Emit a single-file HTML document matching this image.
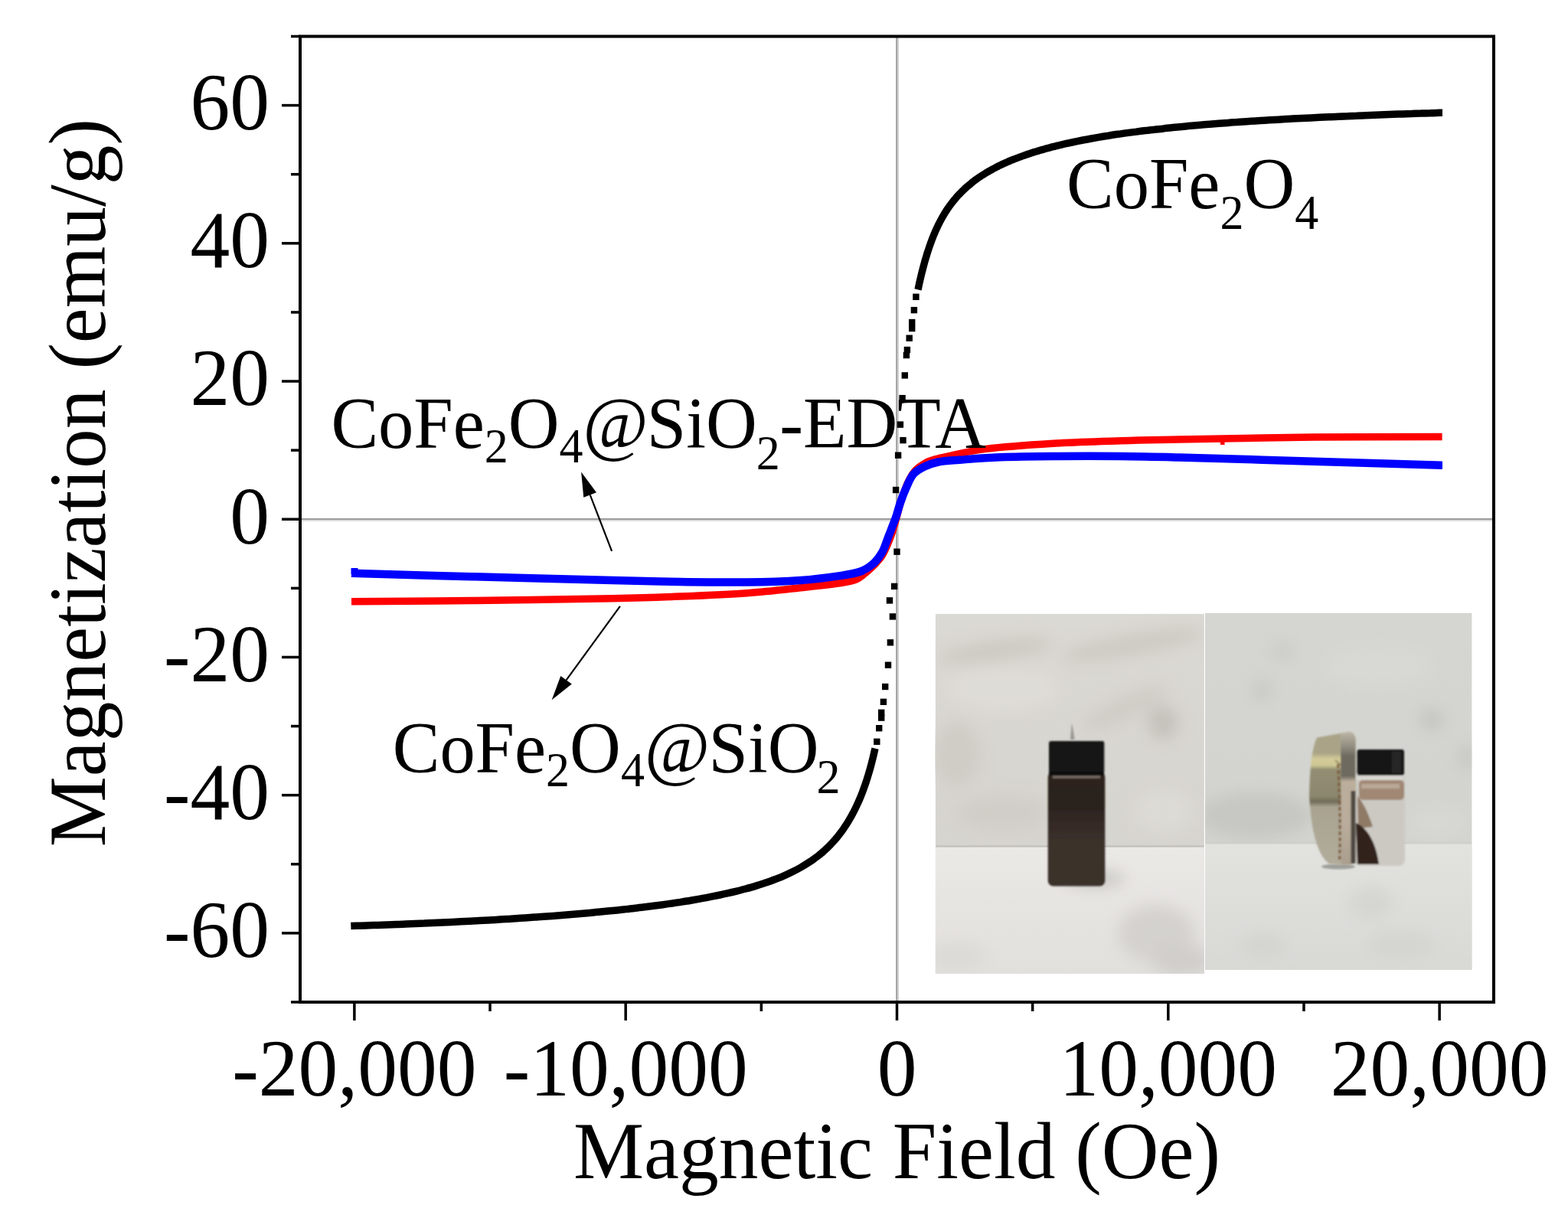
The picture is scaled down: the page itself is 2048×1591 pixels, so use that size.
<!DOCTYPE html>
<html><head><meta charset="utf-8"><title>Magnetization curves</title><style>html,body{margin:0;padding:0;background:#fff;overflow:hidden}svg{display:block}</style></head><body>
<svg width="2048" height="1591" viewBox="0 0 2048 1591" font-family="'Liberation Serif','Times New Roman',serif" fill="#000"><defs>
<filter id="bl1" x="-20%" y="-20%" width="140%" height="140%"><feGaussianBlur stdDeviation="1.1"/></filter>
<filter id="bl2" x="-50%" y="-50%" width="200%" height="200%"><feGaussianBlur stdDeviation="4"/></filter>
<filter id="bl3" x="-60%" y="-60%" width="220%" height="220%"><feGaussianBlur stdDeviation="10"/></filter>
<clipPath id="cpL"><rect x="1221.7" y="801.7" width="351.2" height="470.4"/></clipPath>
<clipPath id="cpR"><rect x="1574" y="800.6" width="348.6" height="466.1"/></clipPath>
<linearGradient id="wallL" x1="0" y1="0" x2="0" y2="1">
<stop offset="0" stop-color="#dbd9d4"/><stop offset="0.5" stop-color="#d7d5d0"/><stop offset="1" stop-color="#d5d3ce"/></linearGradient>
<linearGradient id="tableL" x1="0" y1="0" x2="0" y2="1">
<stop offset="0" stop-color="#ebe9e6"/><stop offset="0.5" stop-color="#e6e4e1"/><stop offset="1" stop-color="#e1e0dc"/></linearGradient>
<linearGradient id="wallR" x1="0" y1="0" x2="0" y2="1">
<stop offset="0" stop-color="#d5d6d1"/><stop offset="0.6" stop-color="#d3d4cf"/><stop offset="1" stop-color="#cdcec9"/></linearGradient>
<linearGradient id="tableR" x1="0" y1="0" x2="0" y2="1">
<stop offset="0" stop-color="#e2e2de"/><stop offset="0.5" stop-color="#dddeda"/><stop offset="1" stop-color="#d8d9d5"/></linearGradient>
<linearGradient id="brass" x1="0" y1="0" x2="1" y2="0">
<stop offset="0" stop-color="#8e8a76"/><stop offset="0.2" stop-color="#b0aa8e"/><stop offset="0.55" stop-color="#aea88c"/><stop offset="0.7" stop-color="#c2beb0"/><stop offset="1" stop-color="#b4b0a6"/></linearGradient>
<linearGradient id="brassV" x1="0" y1="0" x2="0" y2="1">
<stop offset="0" stop-color="#fff" stop-opacity="0"/><stop offset="0.17" stop-color="#fff" stop-opacity="0"/><stop offset="0.22" stop-color="#efe6b0" stop-opacity="0.55"/><stop offset="0.3" stop-color="#fff" stop-opacity="0"/><stop offset="0.47" stop-color="#5a5440" stop-opacity="0"/><stop offset="0.52" stop-color="#5a5440" stop-opacity="0.3"/><stop offset="0.58" stop-color="#5a5440" stop-opacity="0"/><stop offset="1" stop-color="#fff" stop-opacity="0"/></linearGradient>
<linearGradient id="liq" x1="0" y1="0" x2="0" y2="1">
<stop offset="0" stop-color="#2e2520"/><stop offset="0.3" stop-color="#2b221e"/><stop offset="0.45" stop-color="#342a25"/><stop offset="0.6" stop-color="#3a302b"/><stop offset="1" stop-color="#3b312c"/></linearGradient>
<linearGradient id="brassG" x1="0" y1="956" x2="0" y2="1131" gradientUnits="userSpaceOnUse">
<stop offset="0" stop-color="#a9a389"/><stop offset="0.16" stop-color="#aaa487"/><stop offset="0.2" stop-color="#d2ca98"/><stop offset="0.25" stop-color="#cfc794"/><stop offset="0.28" stop-color="#938e73"/><stop offset="0.48" stop-color="#8b876f"/><stop offset="0.52" stop-color="#6f6b59"/><stop offset="0.56" stop-color="#a9a392"/><stop offset="1" stop-color="#b2ac9b"/></linearGradient>
<linearGradient id="faceG" x1="0" y1="956" x2="0" y2="1131" gradientUnits="userSpaceOnUse">
<stop offset="0" stop-color="#bcb6a6"/><stop offset="0.12" stop-color="#8e897d"/><stop offset="0.18" stop-color="#6e6a60"/><stop offset="0.33" stop-color="#6e6a60"/><stop offset="0.37" stop-color="#bcae9b"/><stop offset="0.7" stop-color="#b9ac9b"/><stop offset="1" stop-color="#a99d8d"/></linearGradient>
</defs>
<g id="photos">
<g clip-path="url(#cpL)">
<rect x="1221.7" y="801.7" width="351.2" height="470.4" fill="url(#wallL)"/>
<g filter="url(#bl3)">
<ellipse cx="1300" cy="850" rx="75" ry="12" transform="rotate(-8 1300 850)" fill="#ccc8c1"/>
<ellipse cx="1480" cy="842" rx="95" ry="13" transform="rotate(-10 1480 842)" fill="#cdc9c2"/>
<ellipse cx="1519" cy="944" rx="20" ry="22" fill="#c4c1bb"/>
<ellipse cx="1470" cy="925" rx="60" ry="14" transform="rotate(-25 1470 925)" fill="#cfccc6"/>
<ellipse cx="1310" cy="900" rx="75" ry="28" fill="#dedcd7"/>
<ellipse cx="1250" cy="985" rx="30" ry="42" fill="#cfccc6"/>
<ellipse cx="1310" cy="1062" rx="60" ry="22" fill="#d0cdc8"/>
<ellipse cx="1520" cy="1060" rx="40" ry="30" fill="#dcdad5"/>
</g>
<rect x="1221.7" y="1106" width="351.2" height="167" fill="url(#tableL)"/>
<g filter="url(#bl3)">
<ellipse cx="1510" cy="1220" rx="50" ry="38" fill="#d4d2ce"/>
<ellipse cx="1545" cy="1255" rx="40" ry="20" fill="#d0ceca"/>
<ellipse cx="1250" cy="1250" rx="40" ry="18" fill="#dcdad6"/>
<ellipse cx="1430" cy="1148" rx="40" ry="10" fill="#c6c4c0"/>
</g>
<rect x="1221.7" y="1104.6" width="351.2" height="2" fill="#b4b4af" filter="url(#bl1)"/>
<g filter="url(#bl1)">
<path d="M1400,944 L1403.5,966 L1398,966 Z" fill="#7c7b77" opacity="0.7"/>
<rect x="1368.7" y="1008" width="74.6" height="149.5" rx="7" fill="url(#liq)"/>
<rect x="1370" y="968" width="72.3" height="42" rx="3" fill="#171616"/>
<rect x="1370" y="1008" width="72" height="5" fill="#0c0c0c"/>
<rect x="1375" y="1013.5" width="62" height="3" fill="#9a9088" opacity="0.7"/>
</g>
</g>
<g clip-path="url(#cpR)">
<rect x="1574" y="800.6" width="348.6" height="466.1" fill="url(#wallR)"/>
<g filter="url(#bl3)">
<ellipse cx="1640" cy="1065" rx="75" ry="30" fill="#c6c7c2"/>
<ellipse cx="1870" cy="940" rx="16" ry="15" fill="#c5c6c1"/>
<ellipse cx="1648" cy="902" rx="14" ry="13" fill="#c8c9c4"/>
<ellipse cx="1675" cy="850" rx="14" ry="11" fill="#cacbc6"/>
<ellipse cx="1915" cy="990" rx="12" ry="18" fill="#c8c9c4"/>
<ellipse cx="1800" cy="870" rx="70" ry="25" fill="#d8d9d4"/>
<ellipse cx="1880" cy="1075" rx="40" ry="20" fill="#d7d8d3"/>
</g>
<rect x="1574" y="1101.5" width="348.6" height="166" fill="url(#tableR)"/>
<g filter="url(#bl3)">
<ellipse cx="1790" cy="1180" rx="30" ry="22" fill="#d5d6d1"/>
<ellipse cx="1830" cy="1235" rx="45" ry="18" fill="#d4d5d0"/>
<ellipse cx="1650" cy="1235" rx="30" ry="15" fill="#d3d4cf"/>
</g>
<rect x="1574" y="1100.6" width="348.6" height="1.6" fill="#c5c6c1" filter="url(#bl1)"/>
<ellipse cx="1748" cy="1132" rx="22" ry="3.5" fill="#9fa09c" filter="url(#bl1)"/>
<g filter="url(#bl1)">
<rect x="1769" y="1010" width="66" height="121" rx="8" fill="#ccc9c3"/>
<rect x="1771" y="1011" width="62" height="8" fill="#d9d7d2"/>
<rect x="1775" y="1019" width="59" height="26" rx="5" fill="#a08874"/>
<rect x="1778" y="1024" width="50" height="6" fill="#c4b6a6" opacity="0.7"/>
<path d="M1773,1040 C1782,1050 1788,1065 1793,1080 L1774,1082 Z" fill="#8f7a66"/>
<path d="M1771,1075 C1788,1082 1798,1105 1801,1129 L1773,1129 Z" fill="#30241c"/>
<rect x="1772.5" y="978.9" width="61.4" height="34" rx="3" fill="#131313"/>
<rect x="1818" y="982" width="12" height="28" fill="#3a3a3a" opacity="0.5"/>
<path d="M1720,963.5 L1762,956 Q1770,957 1770.5,966 L1770,1122 Q1769,1130 1760,1130 L1736,1128.5 Q1714,1112 1710,1040 Q1711,982 1720,963.5 Z" fill="url(#brassG)"/>
<path d="M1751,958 L1762,956 Q1770,957 1770.5,966 L1770,1122 Q1769,1130 1760,1130 L1752,1129 Z" fill="url(#faceG)"/>
<rect x="1764.5" y="1033" width="6" height="95" fill="#3c3631" opacity="0.85"/>
<path d="M1747.5,998 C1750,1040 1751,1080 1749.5,1124" stroke="#7a5632" stroke-width="3.2" fill="none" stroke-dasharray="5 3" opacity="0.9"/>
<path d="M1744,993 L1752,1000" stroke="#6a5a44" stroke-width="2" opacity="0.6"/>
</g>
</g>
</g>

<line x1="392.0" y1="680" x2="1951.0" y2="680" stroke="#dddcdc" stroke-width="2.2"/>
<line x1="392.0" y1="677.9" x2="1951.0" y2="677.9" stroke="#9c9a9b" stroke-width="2"/>
<line x1="1172.9" y1="47.5" x2="1172.9" y2="1309.0" stroke="#cfcdcc" stroke-width="2"/>
<line x1="1171.05" y1="47.5" x2="1171.05" y2="1309.0" stroke="#9f9d9d" stroke-width="1.8"/>
<path d="M459.0,785.7 C485.1,785.5 559.0,785.2 615.8,784.5 C672.6,783.8 754.6,782.6 800.0,781.7 C845.4,780.8 858.6,780.3 887.9,779.1 C917.2,777.9 949.4,776.6 975.8,774.7 C1002.2,772.8 1025.6,769.9 1046.1,767.7 C1066.6,765.5 1086.8,763.2 1098.8,761.5 C1110.8,759.8 1112.8,759.3 1118.0,757.2 C1123.2,755.1 1126.3,751.7 1130.0,748.8 C1133.7,745.9 1137.3,742.5 1140.0,740.0 C1142.7,737.5 1144.0,735.8 1146.0,733.5 C1148.0,731.2 1149.9,729.4 1152.0,726.0 C1154.1,722.6 1156.4,717.7 1158.5,713.0 C1160.6,708.3 1162.5,703.8 1164.5,698.0 C1166.5,692.2 1168.5,685.0 1170.5,678.0 C1172.5,671.0 1174.1,663.7 1176.5,656.0 C1178.9,648.3 1181.8,639.0 1185.0,632.0 C1188.2,625.0 1191.8,618.7 1196.0,614.0 C1200.2,609.3 1206.1,606.2 1210.0,604.0 C1213.9,601.8 1215.2,601.7 1219.4,600.5 C1223.6,599.3 1223.8,599.0 1235.2,596.6 C1246.6,594.2 1264.5,589.3 1287.9,586.4 C1311.3,583.5 1346.5,581.1 1375.8,579.3 C1405.1,577.5 1436.3,576.7 1463.7,575.8 C1491.1,574.9 1498.0,574.9 1540.0,574.1 C1582.0,573.3 1658.5,571.7 1715.8,571.1 C1773.1,570.5 1855.6,570.5 1883.6,570.4" fill="none" stroke="#ff0000" stroke-width="9.5" stroke-linejoin="round" stroke-linecap="butt" />
<path d="M459.0,748.8 C485.1,749.5 559.0,751.7 615.8,753.2 C672.6,754.7 754.6,756.9 800.0,758.0 C845.4,759.1 858.6,759.6 887.9,760.0 C917.2,760.4 949.4,760.8 975.8,760.5 C1002.2,760.2 1025.6,759.4 1046.1,758.0 C1066.6,756.6 1085.8,753.8 1098.8,751.9 C1111.8,750.0 1117.0,749.1 1123.9,746.5 C1130.9,743.9 1135.7,740.7 1140.5,736.4 C1145.3,732.1 1149.2,726.7 1152.5,720.9 C1155.8,715.1 1157.5,708.2 1160.0,701.8 C1162.5,695.4 1165.7,687.5 1167.5,682.7 C1169.3,677.9 1169.6,677.5 1171.0,673.1 C1172.4,668.7 1173.9,662.4 1176.0,656.4 C1178.1,650.4 1180.7,643.5 1183.5,637.3 C1186.3,631.1 1189.0,624.0 1193.0,619.4 C1197.0,614.8 1202.1,612.1 1207.5,609.5 C1212.9,606.9 1217.9,605.0 1225.4,603.5 C1232.9,602.0 1239.4,601.8 1252.7,600.8 C1266.0,599.8 1285.0,598.1 1305.5,597.3 C1326.0,596.5 1349.4,596.2 1375.8,596.0 C1402.2,595.8 1436.3,595.8 1463.7,596.0 C1491.1,596.2 1498.0,596.4 1540.0,597.5 C1582.0,598.6 1658.5,601.0 1715.8,602.7 C1773.1,604.4 1855.6,606.9 1883.6,607.7" fill="none" stroke="#0000ff" stroke-width="10.5" stroke-linejoin="round" stroke-linecap="butt" />
<rect x="1594" y="574" width="5.5" height="7" fill="#ff0000"/>
<rect x="1878.5" y="603" width="5.5" height="9.5" fill="#0000ff"/>
<rect x="458.5" y="742" width="9" height="8" fill="#0000ff"/>
<path d="M1199.0,378.3 C1199.2,377.5 1199.7,375.1 1200.0,373.6 C1200.3,372.0 1200.7,370.5 1201.0,369.1 C1201.3,367.6 1201.7,366.1 1202.0,364.7 C1202.3,363.2 1202.7,361.8 1203.0,360.4 C1203.3,359.0 1203.7,357.7 1204.0,356.3 C1204.3,355.0 1204.7,353.7 1205.0,352.4 C1205.3,351.1 1205.7,349.8 1206.0,348.5 C1206.3,347.3 1206.7,346.0 1207.0,344.8 C1207.3,343.6 1207.7,342.4 1208.0,341.2 C1208.3,340.1 1208.7,338.9 1209.0,337.8 C1209.3,336.6 1209.7,335.5 1210.0,334.4 C1210.3,333.3 1210.7,332.2 1211.0,331.2 C1211.3,330.1 1211.7,329.0 1212.0,328.0 C1212.3,327.0 1212.7,326.0 1213.0,325.0 C1213.3,324.0 1213.7,323.0 1214.0,322.0 C1214.3,321.0 1214.7,320.1 1215.0,319.2 C1215.3,318.2 1215.7,317.3 1216.0,316.4 C1216.3,315.5 1216.7,314.6 1217.0,313.7 C1217.3,312.8 1217.7,312.0 1218.0,311.1 C1218.3,310.3 1218.7,309.4 1219.0,308.6 C1219.3,307.8 1219.7,307.0 1220.0,306.2 C1220.3,305.4 1220.7,304.6 1221.0,303.8 C1221.3,303.0 1221.7,302.2 1222.0,301.5 C1222.3,300.7 1222.7,300.0 1223.0,299.3 C1223.3,298.5 1223.7,297.8 1224.0,297.1 C1224.3,296.4 1224.7,295.7 1225.0,295.0 C1225.3,294.3 1225.7,293.6 1226.0,292.9 C1226.3,292.3 1226.7,291.6 1227.0,291.0 C1227.3,290.3 1227.7,289.7 1228.0,289.0 C1228.3,288.4 1228.7,287.8 1229.0,287.2 C1229.3,286.5 1229.7,285.9 1230.0,285.3 C1230.3,284.7 1230.7,284.1 1231.0,283.5 C1231.3,283.0 1231.7,282.4 1232.0,281.8 C1232.3,281.2 1232.7,280.7 1233.0,280.1 C1233.3,279.6 1233.7,279.0 1234.0,278.5 C1234.3,277.9 1234.7,277.4 1235.0,276.9 C1235.3,276.4 1235.7,275.8 1236.0,275.3 C1236.3,274.8 1236.7,274.3 1237.0,273.8 C1237.3,273.3 1237.7,272.8 1238.0,272.3 C1238.3,271.8 1238.7,271.3 1239.0,270.9 C1239.3,270.4 1239.2,270.6 1240.0,269.4 C1240.8,268.3 1242.7,265.8 1244.0,264.1 C1245.3,262.4 1246.7,260.8 1248.0,259.2 C1249.3,257.6 1250.7,256.1 1252.0,254.7 C1253.3,253.3 1254.7,251.9 1256.0,250.6 C1257.3,249.2 1258.7,247.9 1260.0,246.7 C1261.3,245.5 1262.7,244.3 1264.0,243.1 C1265.3,242.0 1266.7,240.9 1268.0,239.8 C1269.3,238.7 1270.7,237.6 1272.0,236.6 C1273.3,235.6 1274.7,234.6 1276.0,233.7 C1277.3,232.7 1278.7,231.8 1280.0,230.9 C1281.3,230.0 1282.7,229.1 1284.0,228.3 C1285.3,227.4 1286.7,226.6 1288.0,225.8 C1289.3,225.0 1290.7,224.2 1292.0,223.5 C1293.3,222.7 1294.7,221.9 1296.0,221.2 C1297.3,220.5 1298.7,219.8 1300.0,219.1 C1301.3,218.4 1302.7,217.7 1304.0,217.0 C1305.3,216.4 1306.7,215.7 1308.0,215.1 C1309.3,214.5 1310.7,213.9 1312.0,213.3 C1313.3,212.6 1314.7,212.1 1316.0,211.5 C1317.3,210.9 1318.7,210.3 1320.0,209.8 C1321.3,209.2 1322.7,208.7 1324.0,208.1 C1325.3,207.6 1326.7,207.1 1328.0,206.6 C1329.3,206.1 1330.7,205.6 1332.0,205.1 C1333.3,204.6 1334.7,204.1 1336.0,203.6 C1337.3,203.1 1338.7,202.7 1340.0,202.2 C1341.3,201.7 1342.7,201.3 1344.0,200.9 C1345.3,200.4 1346.7,200.0 1348.0,199.5 C1349.3,199.1 1350.7,198.7 1352.0,198.3 C1353.3,197.9 1354.7,197.5 1356.0,197.1 C1357.3,196.7 1358.7,196.3 1360.0,195.9 C1361.3,195.5 1362.7,195.1 1364.0,194.8 C1365.3,194.4 1366.7,194.0 1368.0,193.7 C1369.3,193.3 1370.7,192.9 1372.0,192.6 C1373.3,192.2 1374.7,191.9 1376.0,191.6 C1377.3,191.2 1378.7,190.9 1380.0,190.5 C1381.3,190.2 1382.7,189.9 1384.0,189.6 C1385.3,189.3 1386.7,188.9 1388.0,188.6 C1389.3,188.3 1390.7,188.0 1392.0,187.7 C1393.3,187.4 1394.7,187.1 1396.0,186.8 C1397.3,186.5 1397.3,186.5 1400.0,186.0 C1402.7,185.4 1408.0,184.3 1412.0,183.5 C1416.0,182.7 1420.0,181.9 1424.0,181.2 C1428.0,180.5 1432.0,179.8 1436.0,179.1 C1440.0,178.4 1444.0,177.8 1448.0,177.2 C1452.0,176.5 1456.0,175.9 1460.0,175.3 C1464.0,174.8 1468.0,174.2 1472.0,173.6 C1476.0,173.1 1480.0,172.6 1484.0,172.1 C1488.0,171.5 1492.0,171.0 1496.0,170.6 C1500.0,170.1 1504.0,169.6 1508.0,169.2 C1512.0,168.7 1516.0,168.3 1520.0,167.9 C1524.0,167.4 1528.0,167.0 1532.0,166.6 C1536.0,166.2 1540.0,165.8 1544.0,165.4 C1548.0,165.1 1552.0,164.7 1556.0,164.3 C1560.0,164.0 1564.0,163.6 1568.0,163.3 C1572.0,162.9 1576.0,162.6 1580.0,162.3 C1584.0,162.0 1588.0,161.6 1592.0,161.3 C1596.0,161.0 1600.0,160.7 1604.0,160.4 C1608.0,160.1 1612.0,159.8 1616.0,159.6 C1620.0,159.3 1624.0,159.0 1628.0,158.7 C1632.0,158.5 1636.0,158.2 1640.0,158.0 C1644.0,157.7 1648.0,157.5 1652.0,157.2 C1656.0,157.0 1660.0,156.7 1664.0,156.5 C1668.0,156.3 1672.0,156.0 1676.0,155.8 C1680.0,155.6 1684.0,155.4 1688.0,155.1 C1692.0,154.9 1696.0,154.7 1700.0,154.5 C1704.0,154.3 1708.0,154.1 1712.0,153.9 C1716.0,153.7 1720.0,153.5 1724.0,153.3 C1728.0,153.1 1732.0,152.9 1736.0,152.7 C1740.0,152.6 1744.0,152.4 1748.0,152.2 C1752.0,152.0 1756.0,151.8 1760.0,151.7 C1764.0,151.5 1768.0,151.3 1772.0,151.2 C1776.0,151.0 1780.0,150.8 1784.0,150.7 C1788.0,150.5 1792.0,150.4 1796.0,150.2 C1800.0,150.0 1804.0,149.9 1808.0,149.7 C1812.0,149.6 1816.0,149.4 1820.0,149.3 C1824.0,149.2 1828.0,149.0 1832.0,148.9 C1836.0,148.7 1840.0,148.6 1844.0,148.5 C1848.0,148.3 1852.0,148.2 1856.0,148.1 C1860.0,147.9 1864.0,147.8 1868.0,147.7 C1872.0,147.5 1877.3,147.4 1880.0,147.3 C1882.7,147.2 1883.3,147.2 1884.0,147.2" fill="none" stroke="#000" stroke-width="9.5" stroke-linejoin="round" stroke-linecap="butt" />
<path d="M458.3,1209.6 C460.2,1209.5 466.1,1209.3 470.0,1209.2 C473.9,1209.1 478.0,1208.9 482.0,1208.8 C486.0,1208.7 490.0,1208.5 494.0,1208.4 C498.0,1208.2 502.0,1208.1 506.0,1208.0 C510.0,1207.8 514.0,1207.7 518.0,1207.5 C522.0,1207.4 526.0,1207.2 530.0,1207.0 C534.0,1206.9 538.0,1206.7 542.0,1206.6 C546.0,1206.4 550.0,1206.2 554.0,1206.1 C558.0,1205.9 562.0,1205.7 566.0,1205.5 C570.0,1205.3 574.0,1205.2 578.0,1205.0 C582.0,1204.8 586.0,1204.6 590.0,1204.4 C594.0,1204.2 598.0,1204.0 602.0,1203.8 C606.0,1203.6 610.0,1203.4 614.0,1203.2 C618.0,1203.0 622.0,1202.8 626.0,1202.6 C630.0,1202.4 634.0,1202.1 638.0,1201.9 C642.0,1201.7 646.0,1201.5 650.0,1201.2 C654.0,1201.0 658.0,1200.7 662.0,1200.5 C666.0,1200.3 670.0,1200.0 674.0,1199.7 C678.0,1199.5 682.0,1199.2 686.0,1199.0 C690.0,1198.7 694.0,1198.4 698.0,1198.1 C702.0,1197.9 706.0,1197.6 710.0,1197.3 C714.0,1197.0 718.0,1196.7 722.0,1196.4 C726.0,1196.1 730.0,1195.8 734.0,1195.5 C738.0,1195.2 742.0,1194.8 746.0,1194.5 C750.0,1194.2 754.0,1193.8 758.0,1193.5 C762.0,1193.1 766.0,1192.8 770.0,1192.4 C774.0,1192.1 778.0,1191.7 782.0,1191.3 C786.0,1190.9 790.0,1190.5 794.0,1190.1 C798.0,1189.7 802.0,1189.3 806.0,1188.9 C810.0,1188.5 814.0,1188.0 818.0,1187.6 C822.0,1187.2 826.0,1186.7 830.0,1186.2 C834.0,1185.8 838.0,1185.3 842.0,1184.8 C846.0,1184.3 850.0,1183.8 854.0,1183.3 C858.0,1182.8 862.0,1182.2 866.0,1181.7 C870.0,1181.1 874.0,1180.5 878.0,1180.0 C882.0,1179.4 886.0,1178.8 890.0,1178.1 C894.0,1177.5 898.0,1176.9 902.0,1176.2 C906.0,1175.5 910.0,1174.8 914.0,1174.1 C918.0,1173.4 922.0,1172.7 926.0,1171.9 C930.0,1171.1 934.0,1170.3 938.0,1169.5 C942.0,1168.7 946.0,1167.8 950.0,1166.9 C954.0,1166.0 958.0,1165.0 962.0,1164.1 C966.0,1163.1 970.0,1162.1 974.0,1161.0 C978.0,1159.9 982.0,1158.8 986.0,1157.6 C990.0,1156.4 994.0,1155.1 998.0,1153.8 C1002.0,1152.4 1006.0,1151.1 1010.0,1149.5 C1014.0,1148.0 1018.0,1146.5 1022.0,1144.8 C1026.0,1143.1 1030.0,1141.3 1034.0,1139.3 C1038.0,1137.4 1042.0,1135.3 1046.0,1133.0 C1050.0,1130.7 1055.7,1127.1 1058.0,1125.6 C1060.3,1124.1 1059.2,1124.8 1060.0,1124.2 C1060.8,1123.7 1062.0,1122.8 1063.0,1122.1 C1064.0,1121.4 1065.0,1120.7 1066.0,1119.9 C1067.0,1119.1 1068.0,1118.4 1069.0,1117.6 C1070.0,1116.8 1071.0,1116.0 1072.0,1115.1 C1073.0,1114.3 1074.0,1113.5 1075.0,1112.6 C1076.0,1111.7 1077.0,1110.8 1078.0,1109.9 C1079.0,1109.0 1080.0,1108.0 1081.0,1107.1 C1082.0,1106.1 1083.0,1105.1 1084.0,1104.1 C1085.0,1103.1 1086.0,1102.0 1087.0,1100.9 C1088.0,1099.8 1089.0,1098.7 1090.0,1097.6 C1091.0,1096.5 1092.0,1095.3 1093.0,1094.1 C1094.0,1092.9 1095.0,1091.6 1096.0,1090.3 C1097.0,1089.1 1098.0,1087.7 1099.0,1086.4 C1100.0,1085.0 1101.0,1083.6 1102.0,1082.2 C1103.0,1080.7 1104.0,1079.2 1105.0,1077.7 C1106.0,1076.2 1107.0,1074.6 1108.0,1072.9 C1109.0,1071.3 1110.0,1069.6 1111.0,1067.8 C1112.0,1066.1 1113.0,1064.2 1114.0,1062.3 C1115.0,1060.5 1116.0,1058.5 1117.0,1056.5 C1118.0,1054.4 1119.0,1052.3 1120.0,1050.1 C1121.0,1047.9 1122.0,1045.7 1123.0,1043.3 C1124.0,1040.9 1125.0,1038.4 1126.0,1035.9 C1127.0,1033.3 1128.3,1029.6 1129.0,1027.8 C1129.7,1025.9 1129.8,1025.6 1130.0,1024.9 C1130.2,1024.2 1130.3,1023.9 1130.5,1023.4 C1130.7,1022.9 1130.8,1022.4 1131.0,1021.9 C1131.2,1021.4 1131.3,1020.9 1131.5,1020.4 C1131.7,1019.9 1131.8,1019.4 1132.0,1018.9 C1132.2,1018.4 1132.3,1017.9 1132.5,1017.3 C1132.7,1016.8 1132.8,1016.3 1133.0,1015.8 C1133.2,1015.2 1133.3,1014.7 1133.5,1014.1 C1133.7,1013.6 1133.8,1013.1 1134.0,1012.5 C1134.2,1012.0 1134.3,1011.4 1134.5,1010.8 C1134.7,1010.3 1134.8,1009.7 1135.0,1009.1 C1135.2,1008.6 1135.3,1008.0 1135.5,1007.4 C1135.7,1006.8 1135.8,1006.3 1136.0,1005.7 C1136.2,1005.1 1136.3,1004.5 1136.5,1003.9 C1136.7,1003.3 1136.8,1002.7 1137.0,1002.1 C1137.2,1001.5 1137.3,1000.9 1137.5,1000.2 C1137.7,999.6 1137.8,999.0 1138.0,998.4 C1138.2,997.7 1138.3,997.1 1138.5,996.5 C1138.7,995.8 1138.8,995.2 1139.0,994.5 C1139.2,993.9 1139.3,993.2 1139.5,992.5 C1139.7,991.9 1139.8,991.2 1140.0,990.5 C1140.2,989.8 1140.3,989.2 1140.5,988.5 C1140.7,987.8 1140.8,987.1 1141.0,986.4 C1141.2,985.7 1141.3,985.0 1141.5,984.2 C1141.7,983.5 1141.8,982.8 1142.0,982.1 C1142.2,981.3 1142.3,980.6 1142.5,979.9 C1142.7,979.1 1142.9,978.0 1143.0,977.6" fill="none" stroke="#000" stroke-width="9.5" stroke-linejoin="round" stroke-linecap="butt" />
<rect x="1192.2" y="383.6" width="8.4" height="8.4" fill="#000"/>
<rect x="1189.7" y="400.9" width="8.4" height="8.4" fill="#000"/>
<rect x="1187.0" y="416.8" width="8.4" height="8.4" fill="#000"/>
<rect x="1187.0" y="424.8" width="8.4" height="8.4" fill="#000"/>
<rect x="1183.5" y="437.5" width="8.4" height="8.4" fill="#000"/>
<rect x="1180.7" y="452.8" width="8.4" height="8.4" fill="#000"/>
<rect x="1179.7" y="459.8" width="8.4" height="8.4" fill="#000"/>
<rect x="1177.6" y="486.2" width="8.4" height="8.4" fill="#000"/>
<rect x="1174.4" y="515.9" width="8.4" height="8.4" fill="#000"/>
<rect x="1171.7" y="550.4" width="8.4" height="8.4" fill="#000"/>
<rect x="1175.3" y="570.9" width="8.4" height="8.4" fill="#000"/>
<rect x="1168.9" y="590.5" width="8.4" height="8.4" fill="#000"/>
<rect x="1165.9" y="635.8" width="8.4" height="8.4" fill="#000"/>
<rect x="1167.3" y="716.5" width="8.4" height="8.4" fill="#000"/>
<rect x="1163.9" y="761.7" width="8.4" height="8.4" fill="#000"/>
<rect x="1157.8" y="780.2" width="8.4" height="8.4" fill="#000"/>
<rect x="1161.7" y="801.2" width="8.4" height="8.4" fill="#000"/>
<rect x="1158.7" y="835.1" width="8.4" height="8.4" fill="#000"/>
<rect x="1155.8" y="864.5" width="8.4" height="8.4" fill="#000"/>
<rect x="1152.0" y="892.8" width="8.4" height="8.4" fill="#000"/>
<rect x="1149.7" y="912.6" width="8.4" height="8.4" fill="#000"/>
<rect x="1147.0" y="926.6" width="8.4" height="8.4" fill="#000"/>
<rect x="1147.0" y="933.4" width="8.4" height="8.4" fill="#000"/>
<rect x="1144.0" y="947.0" width="8.4" height="8.4" fill="#000"/>
<rect x="1141.1" y="964.6" width="8.4" height="8.4" fill="#000"/>
<rect x="392.0" y="47.5" width="1559.0" height="1261.5" fill="none" stroke="#000" stroke-width="4"/>
<line x1="380.0" y1="1309.00" x2="392.0" y2="1309.00" stroke="#000" stroke-width="3.5"/>
<line x1="368.0" y1="1218.89" x2="392.0" y2="1218.89" stroke="#000" stroke-width="3.5"/>
<line x1="380.0" y1="1128.79" x2="392.0" y2="1128.79" stroke="#000" stroke-width="3.5"/>
<line x1="368.0" y1="1038.68" x2="392.0" y2="1038.68" stroke="#000" stroke-width="3.5"/>
<line x1="380.0" y1="948.57" x2="392.0" y2="948.57" stroke="#000" stroke-width="3.5"/>
<line x1="368.0" y1="858.46" x2="392.0" y2="858.46" stroke="#000" stroke-width="3.5"/>
<line x1="380.0" y1="768.36" x2="392.0" y2="768.36" stroke="#000" stroke-width="3.5"/>
<line x1="368.0" y1="678.25" x2="392.0" y2="678.25" stroke="#000" stroke-width="3.5"/>
<line x1="380.0" y1="588.14" x2="392.0" y2="588.14" stroke="#000" stroke-width="3.5"/>
<line x1="368.0" y1="498.04" x2="392.0" y2="498.04" stroke="#000" stroke-width="3.5"/>
<line x1="380.0" y1="407.93" x2="392.0" y2="407.93" stroke="#000" stroke-width="3.5"/>
<line x1="368.0" y1="317.82" x2="392.0" y2="317.82" stroke="#000" stroke-width="3.5"/>
<line x1="380.0" y1="227.71" x2="392.0" y2="227.71" stroke="#000" stroke-width="3.5"/>
<line x1="368.0" y1="137.61" x2="392.0" y2="137.61" stroke="#000" stroke-width="3.5"/>
<line x1="380.0" y1="47.50" x2="392.0" y2="47.50" stroke="#000" stroke-width="3.5"/>
<line x1="462.86" y1="1309.0" x2="462.86" y2="1333.0" stroke="#000" stroke-width="3.5"/>
<line x1="640.02" y1="1309.0" x2="640.02" y2="1321.0" stroke="#000" stroke-width="3.5"/>
<line x1="817.18" y1="1309.0" x2="817.18" y2="1333.0" stroke="#000" stroke-width="3.5"/>
<line x1="994.34" y1="1309.0" x2="994.34" y2="1321.0" stroke="#000" stroke-width="3.5"/>
<line x1="1171.50" y1="1309.0" x2="1171.50" y2="1333.0" stroke="#000" stroke-width="3.5"/>
<line x1="1348.66" y1="1309.0" x2="1348.66" y2="1321.0" stroke="#000" stroke-width="3.5"/>
<line x1="1525.82" y1="1309.0" x2="1525.82" y2="1333.0" stroke="#000" stroke-width="3.5"/>
<line x1="1702.98" y1="1309.0" x2="1702.98" y2="1321.0" stroke="#000" stroke-width="3.5"/>
<line x1="1880.14" y1="1309.0" x2="1880.14" y2="1333.0" stroke="#000" stroke-width="3.5"/>
<g transform="translate(352.0,1250.1) scale(1,1.03)"><text x="0" y="0" font-size="103.5" text-anchor="end" >-60</text></g>
<g transform="translate(352.0,1069.9) scale(1,1.03)"><text x="0" y="0" font-size="103.5" text-anchor="end" >-40</text></g>
<g transform="translate(352.0,889.7) scale(1,1.03)"><text x="0" y="0" font-size="103.5" text-anchor="end" >-20</text></g>
<g transform="translate(352.0,709.5) scale(1,1.03)"><text x="0" y="0" font-size="103.5" text-anchor="end" >0</text></g>
<g transform="translate(352.0,529.2) scale(1,1.03)"><text x="0" y="0" font-size="103.5" text-anchor="end" >20</text></g>
<g transform="translate(352.0,349.0) scale(1,1.03)"><text x="0" y="0" font-size="103.5" text-anchor="end" >40</text></g>
<g transform="translate(352.0,168.8) scale(1,1.03)"><text x="0" y="0" font-size="103.5" text-anchor="end" >60</text></g>
<g transform="translate(462.9,1430.5) scale(1,1.03)"><text x="0" y="0" font-size="103.5" text-anchor="middle" >-20,000</text></g>
<g transform="translate(817.2,1430.5) scale(1,1.03)"><text x="0" y="0" font-size="103.5" text-anchor="middle" >-10,000</text></g>
<g transform="translate(1171.5,1430.5) scale(1,1.03)"><text x="0" y="0" font-size="103.5" text-anchor="middle" >0</text></g>
<g transform="translate(1525.8,1430.5) scale(1,1.03)"><text x="0" y="0" font-size="103.5" text-anchor="middle" >10,000</text></g>
<g transform="translate(1880.1,1430.5) scale(1,1.03)"><text x="0" y="0" font-size="103.5" text-anchor="middle" >20,000</text></g>
<g transform="translate(1171.5,1538.5) scale(1,1.03)"><text x="0" y="0" font-size="103.5" text-anchor="middle" >Magnetic Field (Oe)</text></g>
<g transform="translate(136.6,630.6) rotate(-90) scale(1,1.03)"><text x="0" y="0" font-size="103.5" text-anchor="middle">Magnetization (emu/g)</text></g>
<g transform="translate(1393.0,271.5) scale(1,1.03)"><text x="0" y="0" font-size="92.5">CoFe<tspan font-size="62" dy="27">2</tspan><tspan dy="-27">O</tspan><tspan font-size="62" dy="27">4</tspan></text></g>
<g transform="translate(432.4,585.4) scale(1,1.03)"><text x="0" y="0" font-size="92.5">CoFe<tspan font-size="62" dy="18.5">2</tspan><tspan dy="-18.5">O</tspan><tspan font-size="62" dy="18.5">4</tspan><tspan dy="-18.5">@</tspan><tspan dx="-2">SiO</tspan><tspan font-size="62" dy="27" dx="-1">2</tspan><tspan dy="-27" dx="-0.5">-EDTA</tspan></text></g>
<g transform="translate(512.7,1008.5) scale(1,1.03)"><text x="0" y="0" font-size="92.5">CoFe<tspan font-size="62" dy="17.5">2</tspan><tspan dy="-17.5">O</tspan><tspan font-size="62" dy="17.5">4</tspan><tspan dy="-17.5">@</tspan><tspan dx="-1.5">SiO</tspan><tspan font-size="62" dy="27" dx="-3">2</tspan></text></g>
<line x1="799.1" y1="719.9" x2="770.7" y2="646.4" stroke="#000" stroke-width="2.2"/><path d="M759.1,616.6 L779.0,643.2 L762.3,649.7 Z" fill="#000"/>
<line x1="809.9" y1="791.9" x2="739.6" y2="888.3" stroke="#000" stroke-width="2.2"/><path d="M720.7,914.2 L732.3,883.0 L746.8,893.6 Z" fill="#000"/></svg>
</body></html>
